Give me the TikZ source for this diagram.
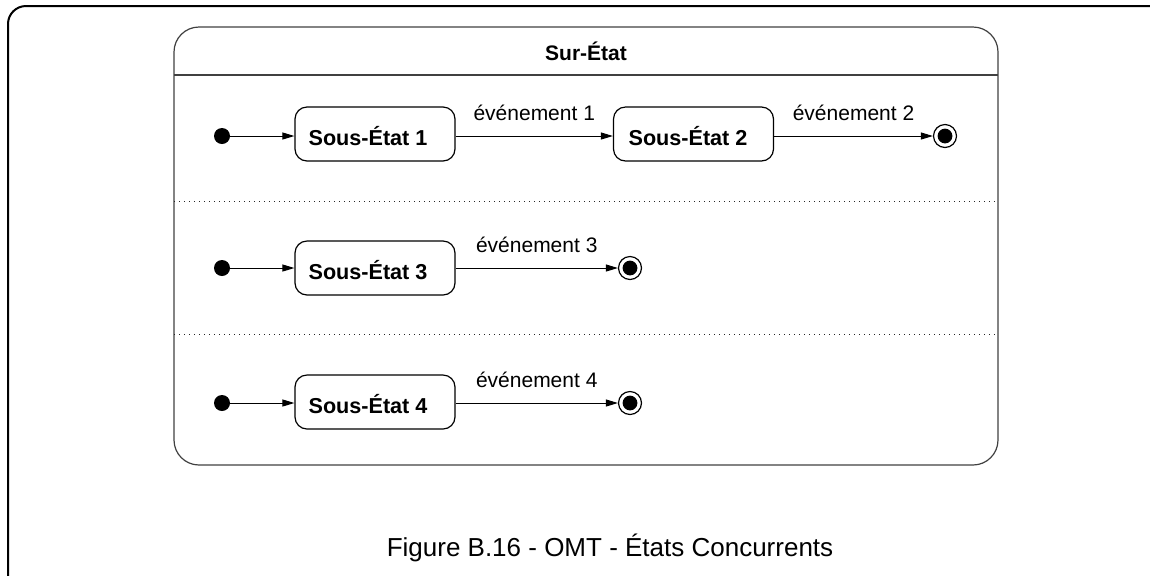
\documentclass[tikz,border=0pt]{standalone}
\usepackage{fontspec}
\setmainfont{Liberation Sans}
\usetikzlibrary{arrows.meta}
\begin{document}
\begin{tikzpicture}[x=0.5pt,y=-0.5pt,
  substate/.style={draw, line width=0.6pt, rounded corners=6pt, minimum width=80pt, minimum height=27pt, inner sep=0pt, font=\fontsize{10.5}{12}\selectfont\bfseries},
  sublabel/.style={font=\fontsize{10.8}{12}\selectfont\bfseries, inner sep=0pt},
  initstate/.style={circle, fill=black, minimum size=8pt, inner sep=0pt},
  finalstate/.style={circle, draw, line width=0.6pt, minimum size=11.5pt, inner sep=0pt,
     path picture={\fill (path picture bounding box.center) circle (3.7pt);}},
  trans/.style={line width=0.5pt, -{Triangle[length=6pt,width=3.5pt]}},
  evlabel/.style={midway, above=4pt, font=\fontsize{10.5}{12}\selectfont},
  sep/.style={dotted, line width=0.5pt, draw=black!85}
]
\useasboundingbox (0,0) rectangle (1150,575);
\begin{scope}
\clip (0,0) rectangle (1150,575);
\draw[line width=1pt, rounded corners=9pt] (8,6) rectangle (1180,610);
\end{scope}
% super state
\node[draw=black!75, line width=0.6pt, rounded corners=12.5pt, minimum width=412pt, minimum height=219pt, inner sep=0pt] (sup) at (586,246) {};
\node[font=\fontsize{10.5}{12}\selectfont\bfseries] (suptitle) at (586,51) {Sur-État};
\coordinate (h1) at (174,75); \coordinate (h2) at (998,75);
\draw[draw=black!75, line width=0.6pt] (h1) -- (h2);
\coordinate (d1a) at (174,201); \coordinate (d1b) at (998,201);
\coordinate (d2a) at (174,334); \coordinate (d2b) at (998,334);
\draw[sep] (d1a) -- (d1b);
\draw[sep] (d2a) -- (d2b);
% row 1
\node[initstate] (i1) at (222,136) {};
\node[substate] (s1) at (375,134) {};
\node[sublabel] (t1) at (368,136) {Sous-État 1};
\node[substate] (s2) at (693.5,134) {};
\node[sublabel] (t2) at (688,136) {Sous-État 2};
\node[finalstate] (f1) at (945,136) {};
\draw[trans] (i1) -- (i1 -| s1.west);
\draw[trans] (s1.east |- i1) -- (s2.west |- i1) node[evlabel] {événement 1};
\draw[trans] (s2.east |- i1) -- (f1) node[evlabel] {événement 2};
% row 2
\node[initstate] (i2) at (222,268) {};
\node[substate] (s3) at (375,268) {};
\node[sublabel] (t3) at (368,270) {Sous-État 3};
\node[finalstate] (f2) at (630,268) {};
\draw[trans] (i2) -- (s3);
\draw[trans] (s3) -- (f2) node[evlabel] {événement 3};
% row 3
\node[initstate] (i3) at (222,403) {};
\node[substate] (s4) at (375,402) {};
\node[sublabel] (t4) at (368,404) {Sous-État 4};
\node[finalstate] (f3) at (630,403) {};
\draw[trans] (i3) -- (i3 -| s4.west);
\draw[trans] (s4.east |- i3) -- (f3) node[evlabel] {événement 4};
% caption
\node[font=\fontsize{13}{15}\selectfont] (cap) at (610,548) {Figure B.16 - OMT - États Concurrents};
\end{tikzpicture}
\end{document}
